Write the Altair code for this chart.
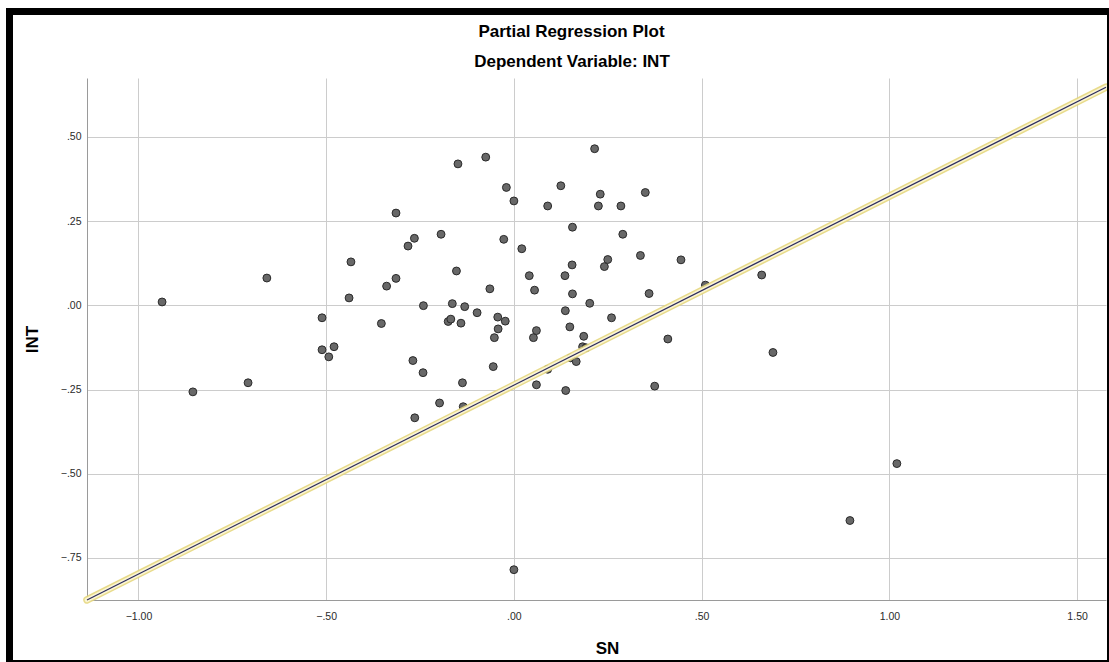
import altair as alt
import pandas as pd

# ---- data ----
sn = [-0.937, -0.855, -0.708, -0.658, -0.511, -0.511, -0.493, -0.479, -0.439, -0.434,
      -0.353, -0.339, -0.314, -0.314, -0.282, -0.265, -0.269, -0.264, -0.242, -0.241,
      -0.198, -0.194, -0.175, -0.168, -0.164, -0.153, -0.149, -0.141, -0.137, -0.135,
      -0.131, -0.098, -0.075, -0.064, -0.055, -0.052, -0.043, -0.042, -0.027, -0.023,
      -0.020, 0.000, 0.000, 0.021, 0.041, 0.052, 0.055, 0.060, 0.060, 0.090,
      0.090, 0.125, 0.136, 0.137, 0.138, 0.149, 0.151, 0.155, 0.156, 0.156,
      0.166, 0.183, 0.186, 0.192, 0.202, 0.215, 0.225, 0.230, 0.241, 0.250,
      0.260, 0.285, 0.290, 0.337, 0.350, 0.360, 0.375, 0.410, 0.445, 0.510,
      0.660, 0.690, 0.895, 1.020]
int_vals = [0.010, -0.257, -0.230, 0.081, -0.037, -0.132, -0.153, -0.123, 0.022, 0.129,
            -0.054, 0.057, 0.080, 0.274, 0.176, 0.199, -0.164, -0.334, -0.200, -0.001,
            -0.290, 0.211, -0.048, -0.041, 0.005, 0.102, 0.420, -0.053, -0.230, -0.301,
            -0.004, -0.022, 0.440, 0.049, -0.182, -0.096, -0.035, -0.070, 0.196, -0.047,
            0.350, 0.310, -0.785, 0.168, 0.088, -0.096, 0.045, -0.075, -0.236, 0.295,
            -0.190, 0.355, 0.088, -0.016, -0.253, -0.064, -0.156, 0.120, 0.232, 0.034,
            -0.167, -0.123, -0.092, -0.126, 0.006, 0.465, 0.295, 0.330, 0.115, 0.136,
            -0.037, 0.295, 0.211, 0.148, 0.335, 0.035, -0.240, -0.100, 0.135, 0.060,
            0.090, -0.140, -0.639, -0.470]

x_domain = [-1.137, 1.577]
y_domain = [-0.875, 0.675]
x_ticks = [-1.0, -0.5, 0.0, 0.5, 1.0, 1.5]
y_ticks = [-0.75, -0.5, -0.25, 0.0, 0.25, 0.5]
fit_slope = 0.561
fit_intercept = -0.237

title_text = "Partial Regression Plot"
subtitle_text = "Dependent Variable: INT"

FONT = "Liberation Sans"
W, H = 1019, 522

pts = pd.DataFrame({"SN": sn, "INT": int_vals})
fit = pd.DataFrame({"SN": x_domain})

label_expr = ("abs(datum.value) >= 1 ? format(datum.value, '.2f') : "
              "replace(format(datum.value, '.2f'), '0.', '.')")

xscale = alt.Scale(domain=x_domain, nice=False, zero=False)
yscale = alt.Scale(domain=y_domain, nice=False, zero=False)

xaxis = alt.Axis(values=x_ticks, labelExpr=label_expr, title="SN", grid=True,
                 ticks=False, labelPadding=11, labelFontSize=10.5, labelColor="#2a2a2a",
                 labelFont=FONT, titleFont=FONT, titleFontSize=17, titleFontWeight="bold",
                 titleColor="#000000", titleX=520, titleY=53, titleBaseline="alphabetic",
                 titleAlign="center", domainColor="#9a9a9a", gridColor="#cccccc")
yaxis = alt.Axis(values=y_ticks, labelExpr=label_expr, title="INT", grid=True,
                 ticks=False, labelPadding=6, labelFontSize=10.5, labelColor="#2a2a2a",
                 labelFont=FONT, titleFont=FONT, titleFontSize=17, titleFontWeight="bold",
                 titleColor="#000000", titleX=-50, titleY=261, titleAngle=270,
                 titleBaseline="alphabetic", titleAlign="center",
                 domainColor="#9a9a9a", gridColor="#cccccc")

base_pts = alt.Chart(pts).mark_circle(
    size=62, color="#686868", opacity=1, stroke="#2a2a2a", strokeWidth=1
).encode(
    x=alt.X("SN:Q", scale=xscale, axis=xaxis),
    y=alt.Y("INT:Q", scale=yscale, axis=yaxis),
)

fit_base = alt.Chart(fit).transform_calculate(
    INT=f"{fit_intercept} + {fit_slope} * datum.SN"
).encode(
    x=alt.X("SN:Q", scale=xscale),
    y=alt.Y("INT:Q", scale=yscale),
)
halo = fit_base.mark_line(color="#e6d77e", strokeWidth=7.5, strokeCap="round", opacity=0.9)
halo_in = fit_base.mark_line(color="#fbf5d2", strokeWidth=4.5, strokeCap="round")
fit_line = fit_base.mark_line(color="#2b2b60", strokeWidth=1.2)

one = alt.Data(values=[{}])
title_mark = alt.Chart(one).mark_text(
    text=title_text, font=FONT, fontSize=17, fontWeight="bold", color="#000000",
    align="center", baseline="alphabetic"
).encode(x=alt.value(484.5), y=alt.value(-41.3))
subtitle_mark = alt.Chart(one).mark_text(
    text=subtitle_text, font=FONT, fontSize=17, fontWeight="bold", color="#000000",
    align="center", baseline="alphabetic"
).encode(x=alt.value(485), y=alt.value(-11.3))

# page frame
frame_left = alt.Chart(one).mark_rule(color="#000000", strokeWidth=7).encode(
    x=alt.value(-77.5), y=alt.value(-70), y2=alt.value(584))
frame_top = alt.Chart(one).mark_rule(color="#000000", strokeWidth=7).encode(
    x=alt.value(-81), x2=alt.value(1022), y=alt.value(-66.5))
frame_right = alt.Chart(one).mark_rule(color="#000000", strokeWidth=2).encode(
    x=alt.value(1021), y=alt.value(-70), y2=alt.value(584))
frame_bottom = alt.Chart(one).mark_rule(color="#000000", strokeWidth=2).encode(
    x=alt.value(-81), x2=alt.value(1022), y=alt.value(583))

chart = alt.layer(
    base_pts, halo, halo_in, fit_line, title_mark, subtitle_mark,
    frame_left, frame_top, frame_right, frame_bottom
).properties(
    width=W, height=H,
    padding={"left": 87, "top": 78, "right": 3, "bottom": 62},
    autosize=alt.AutoSizeParams(type="none"),
    background="#ffffff",
).configure_view(stroke=None)

chart.save("out.html", embed_options={"renderer": "svg", "actions": False})
